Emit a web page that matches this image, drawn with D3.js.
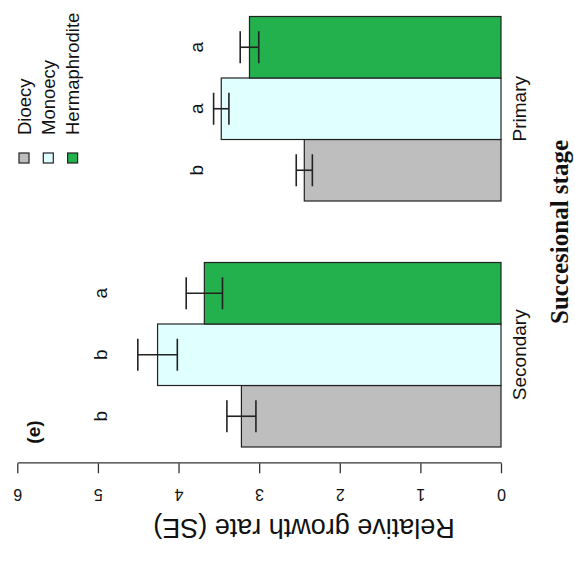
<!DOCTYPE html>
<html>
<head>
<title>Relative growth rate</title>
<script src="https://d3js.org/d3.v7.min.js"></script>
<style>
  body { margin: 0; background: white; }
  text { font-family: "Liberation Sans", Arial, sans-serif; fill: #111; }
  .xtitle { font-family: "Liberation Serif", "Times New Roman", serif; font-weight: bold; }
</style>
</head>
<body>
<svg id="chart" width="575" height="562"></svg>
<script>
// data (stage order as drawn)
const stages = ["Secondary", "Primary"];
const systems = ["Dioecy", "Monoecy", "Hermaphrodite"];
const colors = ["#bebebe", "#e0ffff", "#22b14c"];

const dioecy = [3.22, 2.44];
const dioecySE = [0.18, 0.10];
const monoecy = [4.26, 3.47];
const monoecySE = [0.245, 0.095];
const hermaphrodite = [3.68, 3.12];
const hermaphroditeSE = [0.225, 0.115];

const lettersSecondary = ["b", "b", "a"];
const lettersPrimary = ["b", "a", "a"];
const letterLevel = [4.89, 3.70];

const ticks = [0, 1, 2, 3, 4, 5, 6];

const means = [dioecy, monoecy, hermaphrodite];
const ses = [dioecySE, monoecySE, hermaphroditeSE];
const letters = [lettersSecondary, lettersPrimary];

var rows = [];
stages.forEach((s, i) => {
  systems.forEach((k, j) => {
    rows.push({stage: s, sys: k, mean: means[j][i], se: ses[j][i], letter: letters[i][j], lev: letterLevel[i]});
  });
});

// the plot is drawn upright in a 562 x 575 frame, then turned a quarter left
const W = 562, H = 575;
const svg = d3.select("#chart");
const g = svg.append("g").attr("transform", `translate(0,${W}) rotate(-90)`);

const y = d3.scaleLinear().domain([0, 6]).range([501, 17.3]);
const x0 = d3.scaleBand().domain(stages).range([115, 545.5]).paddingInner(0.25);
const x1 = d3.scaleBand().domain(systems).range([0, x0.bandwidth()]);
const color = d3.scaleOrdinal(systems, colors);

// axis
const ax = g.append("g")
  .attr("transform", "translate(98.7,0)")
  .call(d3.axisLeft(y).tickValues(ticks).tickFormat(d3.format("d")).tickSize(10).tickSizeOuter(0));
ax.select(".domain").attr("stroke", "#333").attr("stroke-width", 1.3);
ax.selectAll(".tick line").attr("stroke", "#333").attr("stroke-width", 1.3);
ax.selectAll(".tick text")
  .attr("x", null).attr("dy", null)
  .attr("transform", "translate(-25.7,0) rotate(-90)")
  .attr("text-anchor", "middle")
  .style("font-family", "Liberation Sans, Arial, sans-serif")
  .style("font-size", "16px")
  .attr("fill", "#111");

g.append("text")
  .attr("transform", "translate(43,304) rotate(-90)")
  .attr("text-anchor", "middle")
  .style("font-size", "27px")
  .text("Relative growth rate (SE)");

// bars
const cx = d => x0(d.stage) + x1(d.sys) + x1.bandwidth() / 2;

g.selectAll("rect.bar")
  .data(rows)
  .join("rect")
  .attr("class", "bar")
  .attr("x", d => x0(d.stage) + x1(d.sys))
  .attr("y", d => y(d.mean))
  .attr("width", x1.bandwidth())
  .attr("height", d => y(0) - y(d.mean))
  .attr("fill", d => color(d.sys))
  .attr("stroke", "#222")
  .attr("stroke-width", 1.2);

// error bars
const eb = g.selectAll("g.err").data(rows).join("g").attr("class", "err")
  .attr("stroke", "#222").attr("stroke-width", 1.6);
eb.append("line")
  .attr("x1", cx).attr("x2", cx)
  .attr("y1", d => y(d.mean - d.se)).attr("y2", d => y(d.mean + d.se));
eb.append("line")
  .attr("x1", d => cx(d) - 16).attr("x2", d => cx(d) + 16)
  .attr("y1", d => y(d.mean - d.se)).attr("y2", d => y(d.mean - d.se));
eb.append("line")
  .attr("x1", d => cx(d) - 16).attr("x2", d => cx(d) + 16)
  .attr("y1", d => y(d.mean + d.se)).attr("y2", d => y(d.mean + d.se));

// significance letters
g.selectAll("text.let")
  .data(rows)
  .join("text")
  .attr("class", "let")
  .attr("x", cx)
  .attr("y", d => y(d.lev))
  .attr("text-anchor", "middle")
  .style("font-size", "19px")
  .text(d => d.letter);

// category labels
g.selectAll("text.cat")
  .data(stages)
  .join("text")
  .attr("class", "cat")
  .attr("x", d => x0(d) + x0.bandwidth() / 2)
  .attr("y", 526)
  .attr("text-anchor", "middle")
  .style("font-size", "19px")
  .text(d => d);

g.append("text")
  .attr("class", "xtitle")
  .attr("x", 330)
  .attr("y", 568)
  .attr("text-anchor", "middle")
  .style("font-size", "25px")
  .text("Succesional stage");

// panel tag
g.append("text")
  .attr("x", 130)
  .attr("y", 40)
  .attr("text-anchor", "middle")
  .style("font-size", "19px")
  .style("font-weight", "bold")
  .text("(e)");

// legend
const leg = g.selectAll("g.leg")
  .data(systems)
  .join("g")
  .attr("class", "leg")
  .attr("transform", (d, i) => `translate(399,${24 + i * 24.3})`);
leg.append("rect")
  .attr("x", 0).attr("y", -5)
  .attr("width", 10).attr("height", 10)
  .attr("fill", d => color(d))
  .attr("stroke", "#222").attr("stroke-width", 1.2);
leg.append("text")
  .attr("x", 28)
  .attr("y", 6.5)
  .style("font-size", "18.5px")
  .text(d => d);
</script>
</body>
</html>
